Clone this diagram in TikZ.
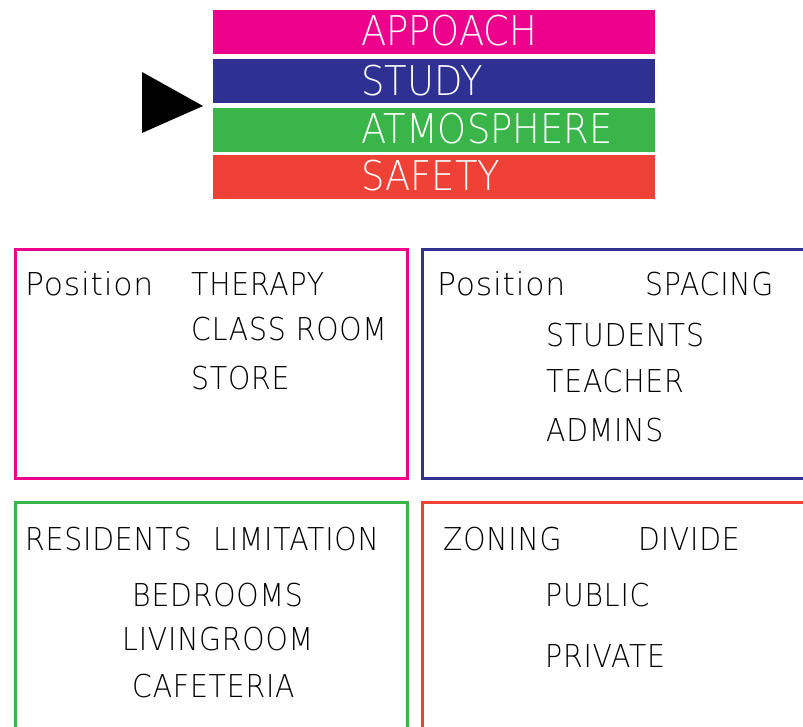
\documentclass[tikz,border=0pt]{standalone}
\usepackage{fontspec}
\setmainfont{DejaVu Sans ExtraLight}[FakeStretch=0.9]
\newfontfamily\capsfont{DejaVu Sans ExtraLight}[FakeStretch=0.9,LetterSpace=2.5]
\newfontfamily\wordfont{DejaVu Sans ExtraLight}[FakeStretch=1.0,LetterSpace=2.5]
\usetikzlibrary{positioning}
\definecolor{siteMagenta}{HTML}{EC008C}
\definecolor{siteBlue}{HTML}{2E3192}
\definecolor{siteGreen}{HTML}{39B54A}
\definecolor{siteRed}{HTML}{EF4136}
\begin{document}
\begin{tikzpicture}[x=1pt,y=-1pt,line join=miter]
\useasboundingbox (0,0) rectangle (803,727);
\path[fill=white] (0,0) rectangle (803,727);
\tikzset{bar/.style={draw=none,minimum width=442pt,minimum height=44pt,inner sep=0pt},bartext/.style={anchor=base west,text=white,font=\fontsize{41}{41}\selectfont,inner sep=0pt},frame/.style={line width=3pt},item/.style={anchor=base west,text=black,font=\capsfont\fontsize{31.5}{31.5}\selectfont,inner sep=0pt},word/.style={item,font=\wordfont\fontsize{31.5}{31.5}\selectfont}}
% legend bars
\node[bar,fill=siteMagenta] (appoach) at (434,32) {}; \node[bartext] (appoachtxt) at (361,46) {APPOACH};
\node[bar,fill=siteBlue] (study) at (434,81.5) {}; \node[bartext] (studytxt) at (361,96) {STUDY};
\node[bar,fill=siteGreen] (atmos) at (434,130) {}; \node[bartext] (atmostxt) at (361,144) {ATMOSPHERE};
\node[bar,fill=siteRed] (safety) at (434,177) {}; \node[bartext] (safetytxt) at (361,191) {SAFETY};
\path[fill=black] (142,72) -- (203,106) -- (142,133) -- cycle;
% approach box
\draw[frame,draw=siteMagenta] (15,250) rectangle (407,478);
\node[word] (posa) at (25,295) {Position}; \node[item] (therapy) at (191,295) {THERAPY};
\node[item] (classroom) at (191,341) {CLASS ROOM}; \node[item] (store) at (191,389) {STORE};
% study box
\draw[frame,draw=siteBlue] (810,250) -- (422,250) -- (422,478) -- (810,478);
\node[word] (posb) at (437,295) {Position}; \node[item] (spacing) at (645,295) {SPACING};
\node[item] (students) at (546,346) {STUDENTS}; \node[item] (teacher) at (546,392) {TEACHER}; \node[item] (admins) at (546,441) {ADMINS};
% atmosphere box
\draw[frame,draw=siteGreen] (15,735) -- (15,502) -- (407,502) -- (407,735);
\node[item] (residents) at (25,550) {RESIDENTS}; \node[item] (limitation) at (213,550) {LIMITATION};
\node[item] (bedrooms) at (132,606) {BEDROOMS}; \node[item] (livingroom) at (122,650) {LIVINGROOM}; \node[item] (cafeteria) at (132,697) {CAFETERIA};
% safety box
\draw[frame,draw=siteRed] (422,735) -- (422,502) -- (810,502);
\node[item] (zoning) at (443,550) {ZONING}; \node[item] (divide) at (638,550) {DIVIDE};
\node[item] (public) at (545,606) {PUBLIC}; \node[item] (private) at (545,667) {PRIVATE};
\end{tikzpicture}
\end{document}
